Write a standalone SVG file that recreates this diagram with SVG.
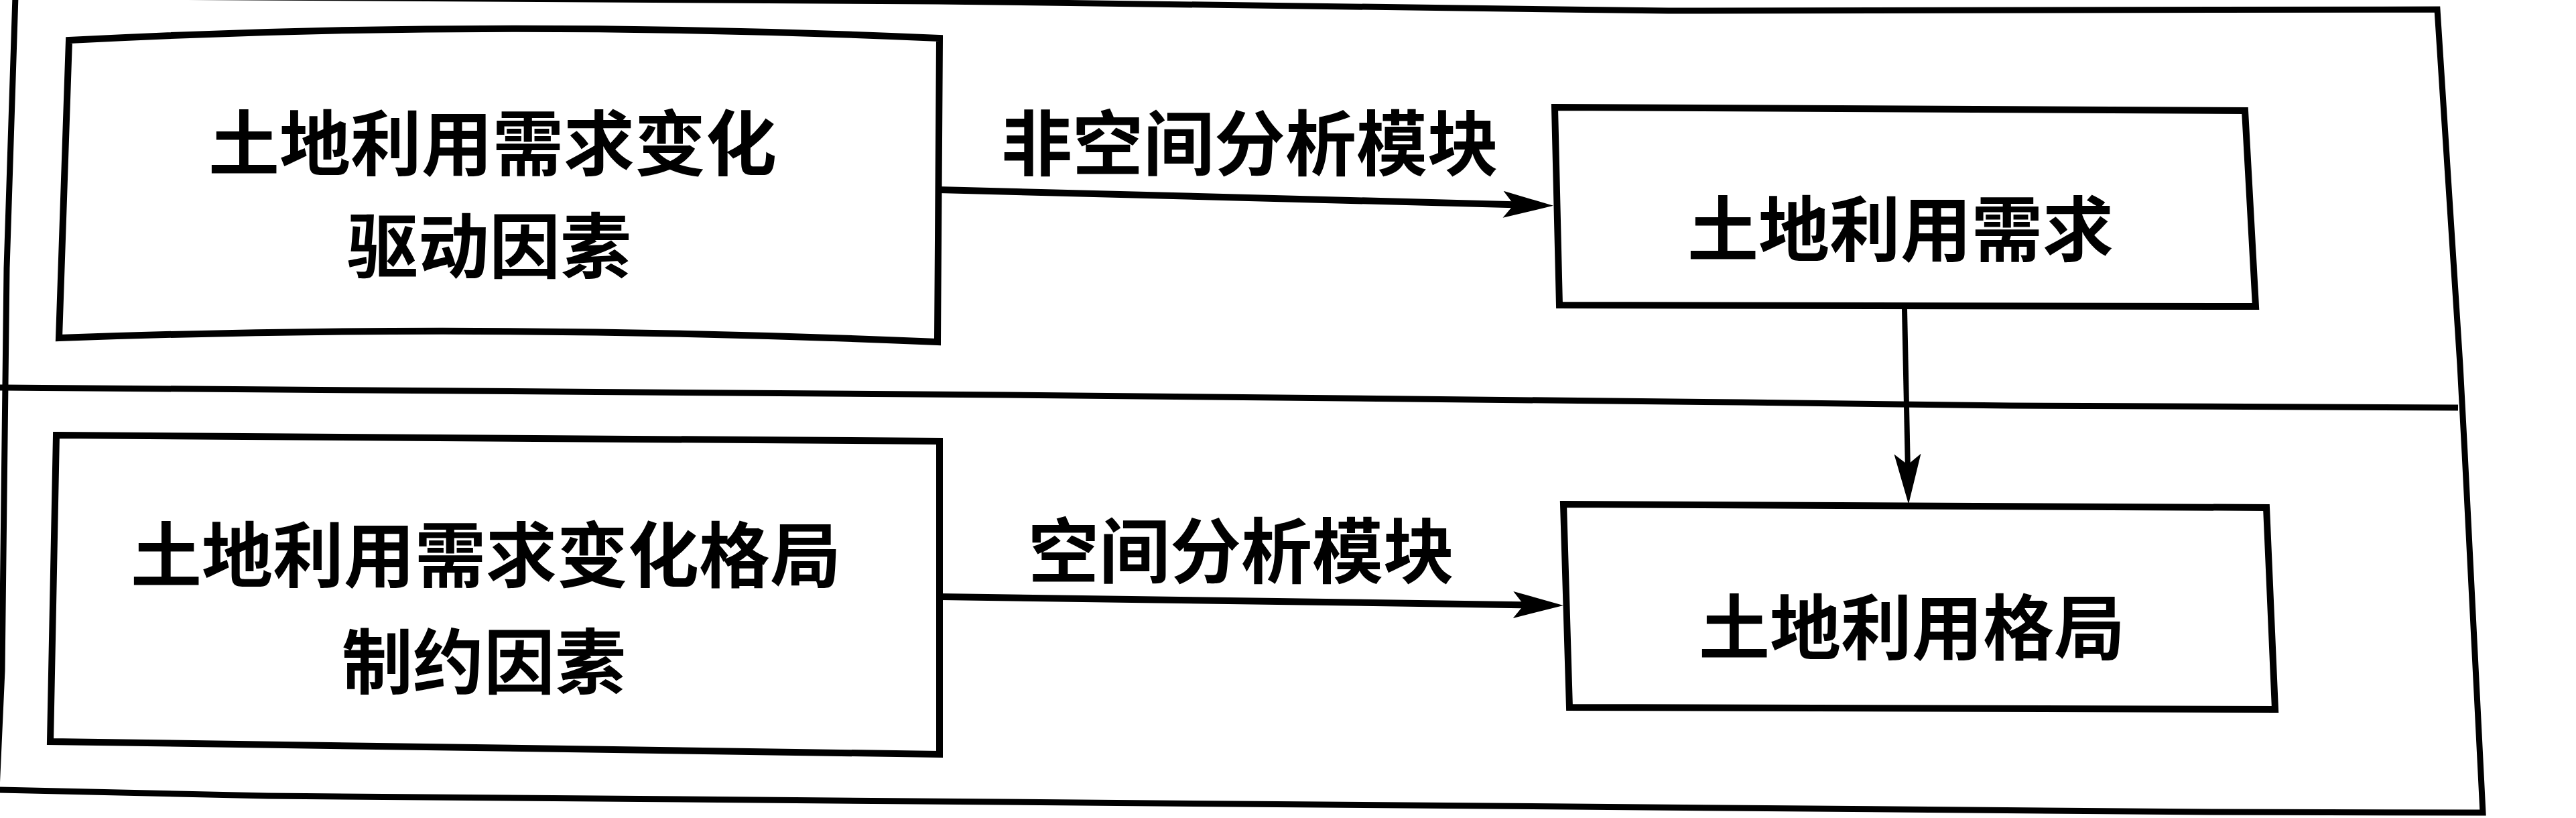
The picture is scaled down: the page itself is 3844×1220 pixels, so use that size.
<svg xmlns="http://www.w3.org/2000/svg" width="3844" height="1220" viewBox="0 0 3844 1220">
<style>
.frame{fill:none;stroke:#000;stroke-width:9;stroke-linejoin:miter}
.box{fill:#fff;stroke:#000;stroke-width:10;stroke-linejoin:miter}
.t{font-family:"Noto Sans CJK SC","Noto Sans CJK TC",sans-serif;font-size:106px;font-weight:700;fill:#000;text-anchor:middle;dominant-baseline:central}
.conn{fill:none;stroke:#000;stroke-width:10}
</style>
<defs>
<marker id="ah" markerUnits="userSpaceOnUse" markerWidth="90" markerHeight="60" viewBox="0 0 90 60" refX="45" refY="22" orient="auto">
<path d="M0,2 L75,22 L0,42 L16,22 Z" fill="#000"/>
</marker>
</defs>
<rect x="0" y="0" width="3844" height="1220" fill="#fff"/>
<g id="frame">
<polygon class="frame" points="23,-6 1400,2 2490,16 3637,14 3671,544 3678,676 3705,1212 3300,1211 400,1187 -5,1178 3,1000 10,400"/>
<polyline class="frame" points="0,578 1500,589 2600,600 3000,605 3668,608"/>
</g>
<g id="node-drivers">
<path class="box" d="M103,60 Q727,27 1402,57 L1399,510 Q727,481 88,504 Z"/>
<text class="t" x="735" y="207">土地利用需求变化</text>
<text class="t" x="730" y="360">驱动因素</text>
</g>
<g id="node-demand">
<polygon class="box" points="2320,160 3350,165 3366,457 2327,455"/>
<text class="t" x="2836" y="335">土地利用需求</text>
</g>
<g id="node-constraints">
<polygon class="box" points="84,649 1402,658 1402,1125 75,1106"/>
<text class="t" x="725" y="821">土地利用需求变化格局</text>
<text class="t" x="722" y="980">制约因素</text>
</g>
<g id="node-pattern">
<polygon class="box" points="2333,752 3382,757 3395,1058 2342,1055"/>
<text class="t" x="2853" y="929">土地利用格局</text>
</g>
<g id="connectors">
<line class="conn" x1="1400" y1="283" x2="2288" y2="306" marker-end="url(#ah)"/>
<text class="t" x="1865" y="207">非空间分析模块</text>
<line class="conn" x1="1404" y1="890" x2="2303" y2="902.6" marker-end="url(#ah)"/>
<text class="t" x="1852" y="815">空间分析模块</text>
<line class="conn" style="stroke-width:8" x1="2842" y1="461" x2="2847.4" y2="722" marker-end="url(#ah)"/>
</g>
</svg>
